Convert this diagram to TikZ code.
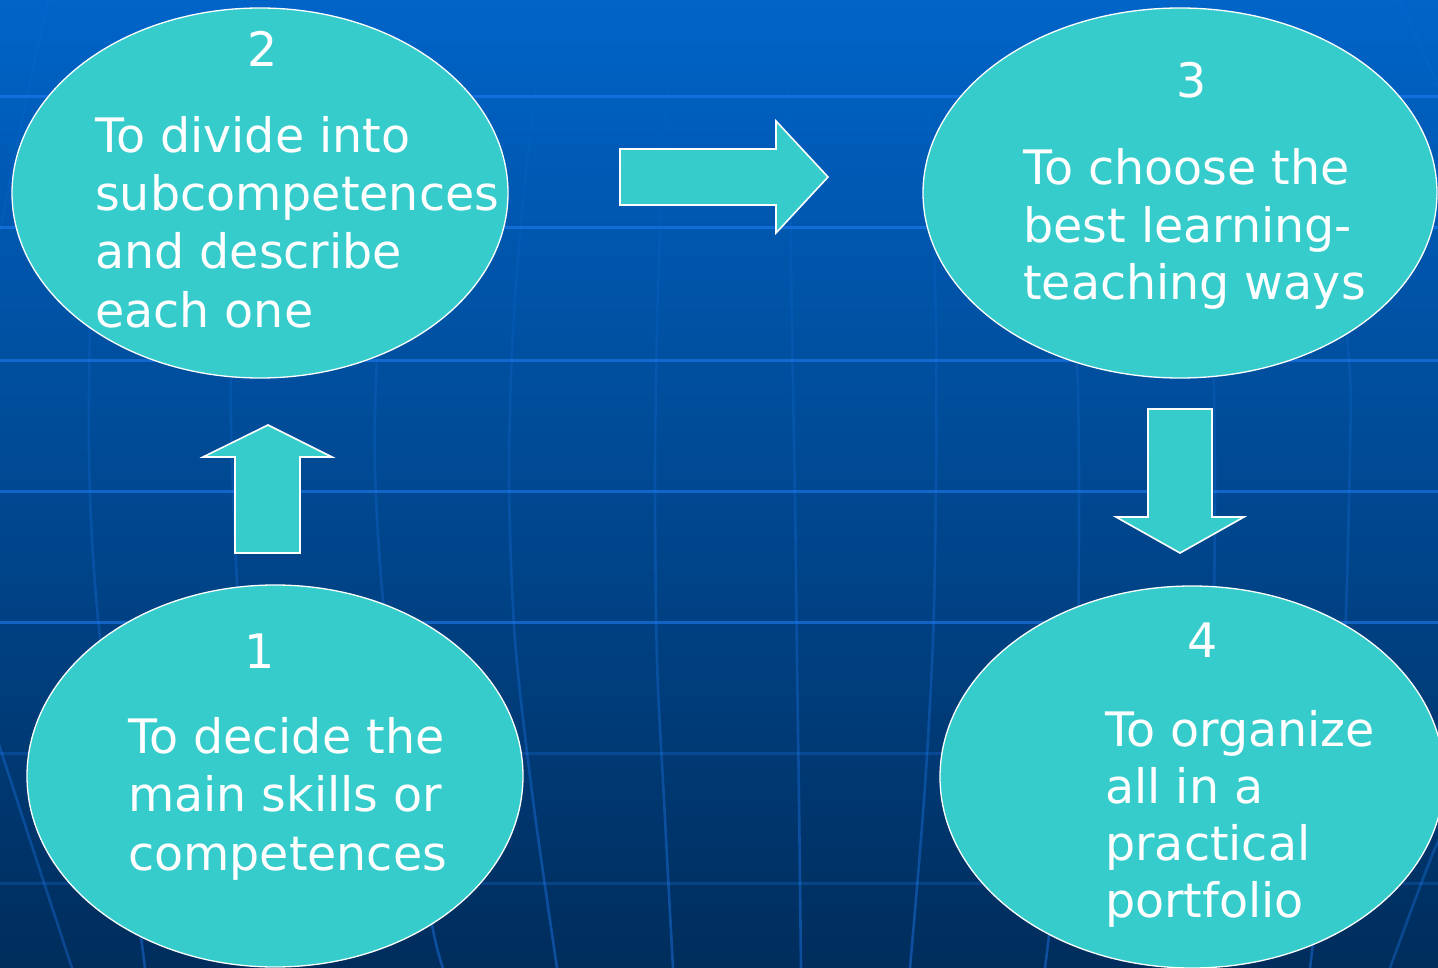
\documentclass[tikz,border=0pt]{standalone}
\usepackage{fontspec}
\setmainfont{DejaVu Sans}
\usetikzlibrary{shapes.geometric,fadings}
\definecolor{bgtop}{HTML}{0064C8}
\definecolor{bgbot}{HTML}{002D5C}
\definecolor{bubblefill}{HTML}{36CCCC}
\definecolor{gridc}{HTML}{1E7AF0}
\begin{document}
\begin{tikzpicture}[x=1pt,y=-1pt,
  bubble/.style={ellipse, draw=white, line width=1.3pt, fill=bubblefill, inner sep=0pt},
  blockarrow/.style={draw=white, line width=1.6pt, fill=bubblefill, line join=miter},
  txt/.style={text=white, inner sep=0pt, anchor=base west, font=\fontsize{47.5}{58}\selectfont},
  num/.style={text=white, inner sep=0pt, anchor=base, font=\fontsize{47.5}{58}\selectfont},
  hline/.style={draw=gridc, line width=3pt, draw opacity=0.6},
  hlinefaint/.style={draw=gridc, line width=3pt, draw opacity=0.25},
  vline/.style={draw=gridc, line width=2.6pt, draw opacity=0.45, path fading=north},
  vlineplain/.style={draw=gridc, line width=2.6pt, draw opacity=0.35},
  vlinefaint/.style={draw=gridc, line width=2pt, draw opacity=0.12}]
\useasboundingbox (0,0) rectangle (1438,968);
\begin{scope}
\clip (0,0) rectangle (1438,968);
\shade[top color=bgtop, bottom color=bgbot] (0,0) rectangle (1438,968);
% horizontal grid lines
\foreach \yy in {97,228,360,491,622} {\draw[hline] (0,\yy) -- (1438,\yy);}
\foreach \yy in {753,883} {\draw[hlinefaint] (0,\yy) -- (1438,\yy);}
% meridians
\draw[vlineplain] plot[smooth] coordinates {(-20,686) (30,840) (72,968)};
\draw[vlinefaint] plot[smooth] coordinates {(48,0) (22,120) (0,230)};
\draw[vline] plot[smooth] coordinates {(120,0) (97,150) (90,330) (89,450) (92,540) (100,637) (118,760) (145,968)};
\draw[vline] plot[smooth] coordinates {(255,0) (238,200) (231,380) (233,490) (238,600) (250,760) (268,968)};
\draw[vline] plot[smooth] coordinates {(415,0) (390,180) (377,360) (375,470) (383,600) (405,780) (433,930) (443,968)};
\draw[vline] plot[smooth] coordinates {(547,0) (525,180) (513,330) (509,480) (515,640) (533,800) (557,968)};
\draw[vline] plot[smooth] coordinates {(673,0) (662,180) (657,330) (655,480) (657,660) (664,800) (673,968)};
\draw[vline] plot[smooth] coordinates {(788,0) (790,180) (792,330) (795,500) (797,660) (799,800) (801,968)};
\draw[vline] plot[smooth] coordinates {(923,0) (932,180) (936,330) (936,480) (933,640) (924,800) (910,968)};
\draw[vline] plot[smooth] coordinates {(1048,0) (1066,180) (1077,360) (1079,500) (1077,660) (1065,800) (1045,968)};
\draw[vline] plot[smooth] coordinates {(1180,0) (1203,180) (1213,360) (1215,500) (1212,660) (1200,800) (1185,968)};
\draw[vline] plot[smooth] coordinates {(1298,0) (1330,180) (1349,360) (1350,450) (1344,660) (1330,800) (1310,968)};
\draw[vlineplain] plot[smooth] coordinates {(1460,800) (1433,853) (1390,968)};
\draw[vlinefaint] plot[smooth] coordinates {(1400,0) (1420,45) (1440,90)};
% ellipses
\node[bubble, minimum width=496pt, minimum height=370pt] (e2) at (260,193) {};
\node[bubble, minimum width=514pt, minimum height=370pt] (e3) at (1180,193) {};
\node[bubble, minimum width=496pt, minimum height=382pt] (e1) at (275,776) {};
\node[bubble, minimum width=504pt, minimum height=382pt] (e4) at (1192,777) {};
% block arrows
\draw[blockarrow] (620,149) -- (776,149) -- (776,121) -- (828,177) -- (776,233) -- (776,205) -- (620,205) -- cycle;
\draw[blockarrow] (235,553) -- (235,457) -- (203,457) -- (268,425) -- (332,457) -- (300,457) -- (300,553) -- cycle;
\draw[blockarrow] (1148,409) -- (1212,409) -- (1212,517) -- (1244,517) -- (1180,553) -- (1116,517) -- (1148,517) -- cycle;
% texts bubble 2
\node[num] (n2) at (263,67) {2};
\node[txt] (t2a) at (95,153) {To divide into};
\node[txt] (t2b) at (95,211) {subcompetences};
\node[txt] (t2c) at (95,269) {and describe};
\node[txt] (t2d) at (95,327) {each one};
% bubble 3
\node[num] (n3) at (1192,98) {3};
\node[txt] (t3a) at (1023,185) {To choose the};
\node[txt] (t3b) at (1023,243) {best learning-};
\node[txt] (t3c) at (1023,300) {teaching ways};
% bubble 1
\node[num] (n1) at (260,668) {1};
\node[txt] (t1a) at (128,753) {To decide the};
\node[txt] (t1b) at (128,811) {main skills or};
\node[txt] (t1c) at (128,870) {competences};
% bubble 4
\node[num] (n4) at (1203,657) {4};
\node[txt] (t4a) at (1105,746) {To organize};
\node[txt] (t4b) at (1105,803) {all in a};
\node[txt] (t4c) at (1105,860) {practical};
\node[txt] (t4d) at (1105,917) {portfolio};
\end{scope}
\end{tikzpicture}
\end{document}
